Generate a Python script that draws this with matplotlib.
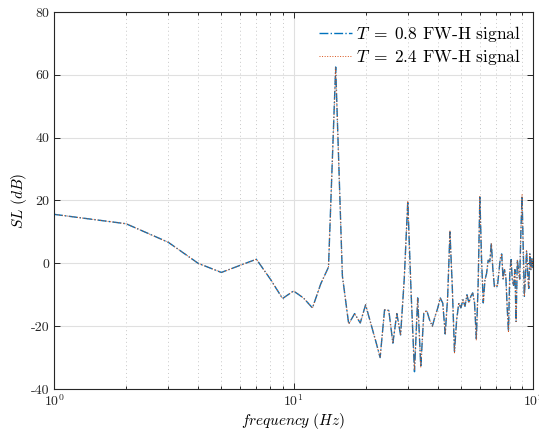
import numpy as np
import matplotlib
matplotlib.use('Agg')
import matplotlib.pyplot as plt
from matplotlib.ticker import NullFormatter

plt.rcParams['mathtext.fontset'] = 'cm'
plt.rcParams['font.family'] = 'cmr10'
plt.rcParams['axes.unicode_minus'] = False
plt.rcParams['axes.formatter.use_mathtext'] = True

# spectrum bins (Hz)
freq = np.arange(1, 101)

# sound level, T = 0.8 signal
sl_t08 = [15.6, 12.6, 6.7, 0.0, -2.9, -0.6, 1.3, -5.0, -11.2, -8.8,
          -11.0, -14.2, -6.5, -1.2, 62.5, -4.0, -19.3, -16.0, -19.0, -13.2,
          -19.0, -24.5, -30.0, -14.8, -15.0, -25.4, -16.0, -22.8, -5.0, 19.7,
          -10.0, -34.5, -11.0, -33.0, -15.9, -15.0, -18.0, -20.0, -16.9, -14.3,
          -11.0, -12.7, -22.5, -11.0, 10.0, -7.0, -28.0, -18.0, -12.6, -14.2,
          -11.6, -13.7, -10.0, -12.6, -10.5, -9.4, -12.6, -24.0, -6.9, 21.0,
          1.0, -12.6, -5.3, -3.2, 1.0, 0.5, 6.4, -2.0, -7.4, -7.0,
          -7.4, -3.0, 1.5, 3.0, -5.0, -2.0, -4.0, -14.0, -21.5, -3.0,
          1.2, -5.5, -7.0, -2.0, -18.5, 1.0, -2.0, -5.0, 10.0, 21.5,
          5.5, -10.5, -4.0, 4.0, -3.0, -8.0, 3.0, -2.0, 1.5, -1.5]

# sound level, T = 2.4 signal
sl_t24 = [15.6, 12.6, 6.7, 0.0, -2.9, -0.6, 1.3, -5.0, -11.2, -8.8,
          -11.0, -14.2, -6.5, -1.2, 62.2, -4.0, -19.3, -16.0, -19.0, -13.2,
          -19.0, -24.5, -30.0, -14.8, -15.0, -25.4, -16.0, -22.8, -5.0, 19.9,
          -10.0, -34.0, -11.0, -33.0, -15.9, -15.0, -18.0, -20.0, -16.9, -14.3,
          -11.0, -12.7, -22.5, -11.0, 10.3, -7.0, -28.5, -18.0, -12.6, -14.2,
          -11.6, -13.7, -10.0, -12.6, -10.5, -9.4, -12.6, -24.5, -6.9, 21.3,
          1.0, -12.6, -5.3, -3.2, 1.0, 0.5, 6.4, -2.0, -7.4, -7.0,
          -7.4, -3.0, 1.5, 3.0, -5.0, -2.0, -4.0, -14.0, -22.0, -3.0,
          1.2, -5.5, -7.0, -2.0, -18.5, 1.0, -2.0, -5.0, 10.0, 21.8,
          5.5, -10.5, -4.0, 4.0, -3.0, -8.0, 3.0, -2.0, 1.5, -1.5]

yticks = [-40, -20, 0, 20, 40, 60, 80]

fig = plt.figure(figsize=(5.39, 4.32), dpi=100)
ax = fig.add_axes([54/539, 43/432, 479/539, 377/432])

ax.plot(freq, sl_t08, '-.', color='#0072BD', lw=1.0, label=r'$T\;=\;0.8$ FW-H signal')
ax.plot(freq, sl_t24, ':', color='#D95319', lw=0.7, label=r'$T\;=\;2.4$ FW-H signal')

ax.set_xscale('log')
ax.set_xlim(1, 100)
ax.set_ylim(-40, 80)
ax.set_xticks([1, 10, 100], labels=[r'$10^{0}$', r'$10^{1}$', r'$10^{2}$'])
ax.xaxis.set_minor_formatter(NullFormatter())
ax.set_yticks(yticks, labels=[str(v) for v in yticks])

ax.grid(True, which='major', color='#e0e0e0', lw=0.8, ls='-')
ax.grid(True, which='minor', axis='x', color='#c8c8c8', lw=0.7, ls=(0, (1, 3)))
ax.set_axisbelow(True)

ax.tick_params(which='both', direction='in', top=True, right=True,
               colors='#262626', labelcolor='#262626', labelsize=10, width=0.7)
ax.tick_params(which='major', length=4.5)
ax.tick_params(which='minor', length=2.5)
for sp in ax.spines.values():
    sp.set_color('#262626')
    sp.set_linewidth(0.8)

ax.set_xlabel(r'$frequency\ (Hz)$', fontsize=11, labelpad=1)
ax.set_ylabel(r'$SL\ (dB)$', fontsize=11, labelpad=1)

ax.legend(loc='upper right', frameon=False, fontsize=12.5, handlelength=1.9,
          handletextpad=0.25, labelspacing=0.15, borderaxespad=0.4, borderpad=0.3)

fig.savefig('out.png', dpi=100)
